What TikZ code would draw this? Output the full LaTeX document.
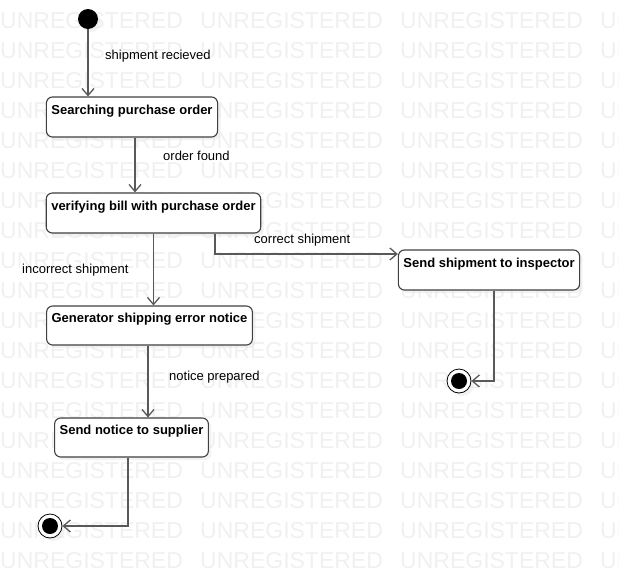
\documentclass[tikz,border=0pt]{standalone}
\usepackage{fontspec}
\setmainfont{Liberation Sans}
\usetikzlibrary{arrows.meta,shadows}
\tikzset{
  state/.style={draw=black!75,rounded corners=6pt,line width=1.1pt,fill=white,font=\fontsize{13}{15}\selectfont\bfseries,align=center,inner sep=5pt,minimum height=40pt,drop shadow={shadow xshift=3pt,shadow yshift=-3pt,fill=black!10}},
  lbl/.style={font=\fontsize{13}{15}\selectfont,anchor=west,inner sep=0pt},
  arr/.style={-{Straight Barb[length=7pt,width=12pt]},draw=black!65,line width=1.3pt},
  startst/.style={circle,fill=black,minimum size=20pt,inner sep=0pt,drop shadow={shadow xshift=3pt,shadow yshift=-3pt,fill=black!10}},
  endst/.style={circle,draw=black,line width=0.8pt,fill=white,minimum size=24pt,inner sep=0pt,drop shadow={shadow xshift=3pt,shadow yshift=-3pt,fill=black!10},
    path picture={\fill[black] (path picture bounding box.center) circle (8pt);}},
  wm/.style={font=\fontsize{23}{23}\selectfont,text=black!6,anchor=west,inner sep=0pt},
}
\begin{document}
\begin{tikzpicture}[x=1pt,y=-1pt]
\useasboundingbox (0,0) rectangle (619,579);
% watermark
\begin{scope}
\clip (0,0) rectangle (619,579);
\foreach \row in {0,...,18}{
  \foreach \col in {0,1,2,3}{
    \node[wm] (wm-\row-\col) at (200*\col,21+30*\row) {UNREGISTERED};
  }
}
\end{scope}
% states
\node[startst] (start) at (88,19) {};
\node[state,minimum width=170pt] (s1) at (132,117) {Searching purchase order\\ \mbox{}};
\node[state,minimum width=213pt] (s2) at (153.5,213) {verifying bill with purchase order\\ \mbox{}};
\node[state,minimum width=205pt,minimum height=39pt] (s3) at (149.5,325.5) {Generator shipping error notice\\ \mbox{}};
\node[state,minimum width=180pt] (s4) at (489,270) {Send shipment to inspector\\ \mbox{}};
\node[state,minimum width=153pt,minimum height=39pt] (s5) at (131.5,437.5) {Send notice to supplier\\ \mbox{}};
\node[endst] (end1) at (50,526) {};
\node[endst] (end2) at (459,381) {};
% transitions
\draw[arr] (start) -- (start |- s1.north);
\draw[arr] ([xshift=3pt]s1.south) -- ([xshift=3pt]s1.south |- s2.north);
\draw[arr] (s2.south) -- (s2.south |- s3.north);
\draw[arr] ([xshift=61.5pt]s2.south) |- ([yshift=16pt]s4.west);
\draw[arr] ([xshift=-1.5pt]s3.south) -- ([xshift=-1.5pt]s3.south |- s5.north);
\draw[arr] ([xshift=-3.5pt]s5.south) |- (end1);
\draw[arr] ([xshift=5pt]s4.south) |- (end2);
% labels
\node[lbl] (l1) at (105,56) {shipment recieved};
\node[lbl] (l2) at (163,156) {order found};
\node[lbl] (l3) at (22,270) {incorrect shipment};
\node[lbl] (l4) at (254,240) {correct shipment};
\node[lbl] (l5) at (169,377) {notice prepared};
\end{tikzpicture}
\end{document}
